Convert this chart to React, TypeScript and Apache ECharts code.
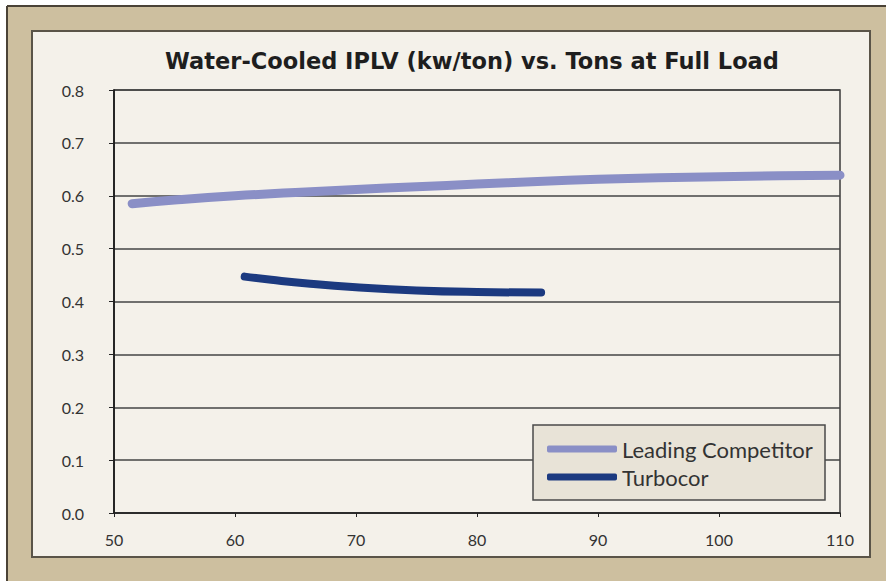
import React, { useEffect, useRef } from "react";
import * as echarts from "echarts";

const titleText = "Water-Cooled IPLV (kw/ton) vs. Tons at Full Load";
const seriesNames = ["Leading Competitor", "Turbocor"];
const competitorTons = [51.5, 55, 60, 65, 70, 75, 80, 85, 90, 95, 100, 105, 110];
const competitorIplv = [0.585, 0.592, 0.6, 0.606, 0.612, 0.617, 0.622, 0.627, 0.631, 0.634, 0.636, 0.638, 0.639];
const turbocorTons = [60.8, 63, 66, 70, 75, 80, 85.3];
const turbocorIplv = [0.447, 0.441, 0.434, 0.427, 0.421, 0.418, 0.417];

export default function App() {
  const ref = useRef<HTMLDivElement>(null);
  useEffect(() => {
    if (!ref.current) return;
    const chart = echarts.init(ref.current, null, { renderer: "svg" });
    const font = "Lato, 'Open Sans', sans-serif";
    chart.setOption({
      animation: false,
      backgroundColor: "#ffffff",
      graphic: [
        { type: "rect", z: -10, shape: { x: 7, y: 6, width: 879, height: 575 }, style: { fill: "#cdbf9f" } },
        { type: "line", z: -9, shape: { x1: 7, y1: 6, x2: 886, y2: 6 }, style: { stroke: "#4a4236", lineWidth: 2 } },
        { type: "line", z: -9, shape: { x1: 7, y1: 6, x2: 7, y2: 581 }, style: { stroke: "#4a4236", lineWidth: 2 } },
        { type: "rect", z: -8, shape: { x: 32, y: 31, width: 838, height: 526 }, style: { fill: "#f4f1ea", stroke: "#5a5448", lineWidth: 2 } },
        { type: "rect", z: 5, shape: { x: 533, y: 425, width: 292, height: 75 }, style: { fill: "#e8e3d7", stroke: "#4a4a4a", lineWidth: 1.5 } },
        {
          type: "text",
          x: 472,
          y: 61,
          style: {
            text: titleText,
            font: `bold 22.5px 'DejaVu Sans', sans-serif`,
            fill: "#1e1e1e",
            align: "center",
            verticalAlign: "middle",
          },
        },
      ],
      grid: {
        left: 114,
        right: 46,
        top: 90,
        bottom: 68,
        show: true,
        borderColor: "#3a3a3a",
        borderWidth: 1.5,
        backgroundColor: "transparent",
      },
      legend: {
        orient: "vertical",
        left: 533,
        top: 426,
        z: 6,
        padding: [12, 12, 12, 14],
        itemWidth: 70,
        itemHeight: 7,
        itemGap: 6,
        icon: "roundRect",
        data: seriesNames,
        textStyle: { fontFamily: font, fontSize: 22, color: "#333", lineHeight: 21 },
      },
      xAxis: {
        type: "value",
        min: 50,
        max: 110,
        interval: 10,
        axisLine: { show: true, lineStyle: { color: "#222", width: 1.5 } },
        axisTick: { show: true, length: 4, lineStyle: { color: "#222" } },
        splitLine: { show: false },
        axisLabel: { fontFamily: font, fontSize: 16, color: "#333", margin: 18 },
      },
      yAxis: {
        type: "value",
        min: 0,
        max: 0.8,
        interval: 0.1,
        axisLine: { show: true, lineStyle: { color: "#111", width: 1.5 } },
        axisTick: { show: true, length: 5, lineStyle: { color: "#222" } },
        splitLine: { show: true, lineStyle: { color: "#444", width: 1.5 } },
        axisLabel: {
          fontFamily: font,
          fontSize: 16,
          color: "#333",
          margin: 30,
          formatter: (v: number) => v.toFixed(1),
        },
      },
      series: [
        {
          name: seriesNames[0],
          type: "line",
          smooth: true,
          showSymbol: false,
          color: "#8a8fc6",
          lineStyle: { width: 9, cap: "round", join: "round", color: "#8a8fc6" },
          data: competitorTons.map((t, i) => [t, competitorIplv[i]]),
        },
        {
          name: seriesNames[1],
          type: "line",
          smooth: true,
          showSymbol: false,
          color: "#1c3a80",
          lineStyle: { width: 8, cap: "round", join: "round", color: "#1c3a80" },
          data: turbocorTons.map((t, i) => [t, turbocorIplv[i]]),
        },
      ],
    });
    return () => chart.dispose();
  }, []);
  return <div ref={ref} style={{ position: "fixed", left: 0, top: 0, width: 886, height: 581 }} />;
}
